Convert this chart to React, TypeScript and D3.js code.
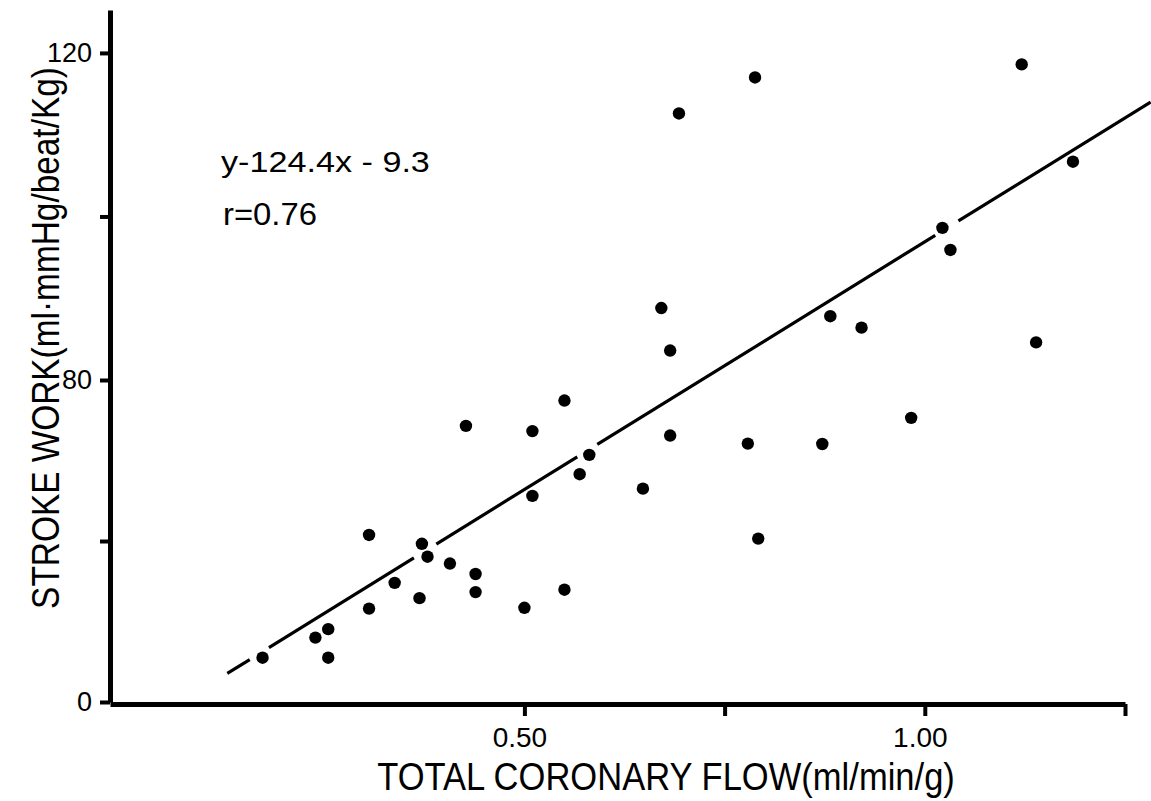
import { useEffect, useRef } from "react";
import * as d3 from "d3";

// total coronary flow (ml/min/g)
const flow = [
    0.173, 0.239, 0.255, 0.255, 0.306, 0.306, 0.338, 0.369, 0.372, 0.379,
    0.407, 0.427, 0.439, 0.439, 0.5, 0.51, 0.51, 0.55, 0.55, 0.569,
    0.581, 0.648, 0.671, 0.682, 0.682, 0.693, 0.779, 0.788, 0.792, 0.872,
    0.882, 0.921, 0.983, 1.022, 1.032, 1.121, 1.139, 1.185,
];

// stroke work (ml·mmHg/beat/Kg)
const strokeWork = [
    11.0, 16.0, 18.1, 11.0, 41.5, 23.2, 29.6, 25.8, 39.3, 36.1,
    34.4, 68.6, 31.8, 27.3, 23.4, 67.3, 51.2, 74.9, 27.9, 56.6,
    61.4, 53.0, 88.8, 66.2, 83.6, 112.6, 64.2, 117.0, 40.6, 64.1,
    87.8, 86.4, 70.6, 98.6, 95.9, 118.6, 84.6, 106.7,
];

const xTicks = [0.5, 0.75, 1.0, 1.25];
const xTickLabels = ["0.50", "", "1.00", ""];
const yTicks = [0, 40, 80, 100, 120];
const yTickLabels = ["0", "", "80", "", "120"];

// regression line ends, and the places where the pen was lifted
const fitX = [0.129, 1.282];
const fitY = [7.1, 114.0];
const fitGaps = [
    [0.157, 0.181],
    [0.362, 0.39],
    [0.566, 0.591],
    [1.013, 1.042],
];

const WIDTH = 1151;
const HEIGHT = 801;
const FONT = '"Liberation Sans", Arial, Helvetica, sans-serif';

// squeeze a text horizontally so it covers `width` pixels, like the condensed original
function squeeze(sel: any, place: string, width: number) {
    const len = (sel.node() as SVGTextElement).getComputedTextLength();
    sel.attr("transform", `${place} scale(${width / len},1)`);
}

export default function App() {
    const svgRef = useRef<SVGSVGElement>(null);

    useEffect(() => {
        const svg = d3.select(svgRef.current);
        svg.selectAll("*").remove();

        svg.append("rect")
            .attr("width", WIDTH)
            .attr("height", HEIGHT)
            .attr("fill", "#fff");

        const x = d3.scaleLinear().domain([-0.0175, 1.25]).range([110, 1125]);
        // the printed axis is not uniform: 0-80 is squeezed, 80-120 stretched
        const y = d3.scaleLinear().domain([0, 80, 125.25]).range([702, 380, 10]);

        // x axis
        const xAxis = svg
            .append("g")
            .attr("transform", "translate(0,704)")
            .call(
                d3
                    .axisBottom(x)
                    .tickValues(xTicks)
                    .tickFormat((_, i) => xTickLabels[i])
                    .tickSize(12)
                    .tickSizeOuter(0)
                    .tickPadding(11)
            );
        xAxis.attr("font-family", null).attr("font-size", null);
        xAxis.select(".domain").attr("stroke", "#000").attr("stroke-width", 5);
        xAxis.selectAll(".tick line").attr("stroke", "#000").attr("stroke-width", 4);
        xAxis
            .selectAll(".tick text")
            .style("font-family", FONT)
            .style("font-size", "28px")
            .attr("fill", "#000")
            .attr("dx", -5);

        // y axis
        const yAxis = svg
            .append("g")
            .attr("transform", "translate(110,0)")
            .call(
                d3
                    .axisLeft(y)
                    .tickValues(yTicks)
                    .tickFormat((_, i) => yTickLabels[i])
                    .tickSize(10)
                    .tickSizeOuter(0)
                    .tickPadding(8)
            );
        yAxis.attr("font-family", null).attr("font-size", null);
        yAxis.select(".domain").attr("stroke", "#000").attr("stroke-width", 5);
        yAxis.selectAll(".tick line").attr("stroke", "#000").attr("stroke-width", 4);
        yAxis
            .selectAll(".tick text")
            .style("font-family", FONT)
            .style("font-size", "27px")
            .attr("fill", "#000");

        // axis titles
        const xTitle = svg
            .append("text")
            .attr("text-anchor", "middle")
            .style("font-family", FONT)
            .style("font-size", "39px")
            .text("TOTAL CORONARY FLOW(ml/min/g)");
        squeeze(xTitle, "translate(666,790)", 578);

        const yTitle = svg
            .append("text")
            .attr("text-anchor", "middle")
            .style("font-family", FONT)
            .style("font-size", "39px")
            .text("STROKE  WORK(ml·mmHg/beat/Kg)");
        squeeze(yTitle, "translate(59,338) rotate(-90)", 542);

        // equation
        const eq = svg
            .append("text")
            .style("font-family", FONT)
            .style("font-size", "30px")
            .text("y-124.4x - 9.3");
        squeeze(eq, "translate(221,172)", 209);

        const r = svg
            .append("text")
            .style("font-family", FONT)
            .style("font-size", "31px")
            .text("r=0.76");
        squeeze(r, "translate(223,225)", 94);

        // regression line, straight on the printed page
        const p0 = [x(fitX[0]), y(fitY[0])];
        const p1 = [x(fitX[1]), y(fitY[1])];
        const onLine = (v: number) => {
            const px = x(v);
            const t = (px - p0[0]) / (p1[0] - p0[0]);
            return [px, p0[1] + t * (p1[1] - p0[1])];
        };
        const stops = [fitX[0], ...fitGaps.flat(), fitX[1]];
        const pieces = d3.range(0, stops.length, 2).map((i) => [stops[i], stops[i + 1]]);

        svg.append("g")
            .selectAll("line")
            .data(pieces)
            .join("line")
            .attr("x1", (d) => onLine(d[0])[0])
            .attr("y1", (d) => onLine(d[0])[1])
            .attr("x2", (d) => onLine(d[1])[0])
            .attr("y2", (d) => onLine(d[1])[1])
            .attr("stroke", "#000")
            .attr("stroke-width", 3.2);

        // points
        svg.append("g")
            .selectAll("circle")
            .data(flow.map((f, i) => [f, strokeWork[i]]))
            .join("circle")
            .attr("cx", (d) => x(d[0]))
            .attr("cy", (d) => y(d[1]))
            .attr("r", 6.2)
            .attr("fill", "#000");
    }, []);

    return (
        <svg
            ref={svgRef}
            width={WIDTH}
            height={HEIGHT}
            style={{ position: "absolute", left: 0, top: 0, display: "block" }}
        />
    );
}
